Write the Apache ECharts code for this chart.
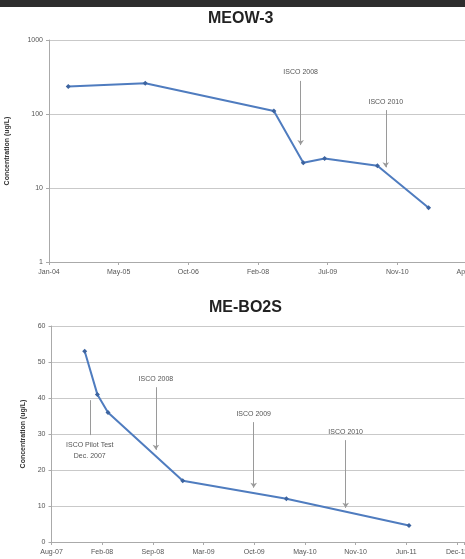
<!DOCTYPE html>
<html>
<head>
<meta charset="utf-8">
<script src="https://cdn.jsdelivr.net/npm/echarts@6/dist/echarts.min.js"></script>
<style>
  html, body { margin: 0; padding: 0; background: #fff; }
  #main { width: 465px; height: 559px; }
</style>
</head>
<body>
<div id="main"></div>
<script>
// MEOW-3 (log scale)
var meowStart = '2004-01-15';
var meowTickLabels = ['Jan-04', 'May-05', 'Oct-06', 'Feb-08', 'Jul-09', 'Nov-10', 'Apr-12'];
var meowDates = ['2004-06-01', '2005-12-06', '2008-06-16', '2009-01-13', '2009-06-15', '2010-06-29', '2011-07-01'];
var meowValues = [235, 260, 110, 22, 25, 20, 5.4];
var meowNotes = ['ISCO 2008', 'ISCO 2010'];
var meowNoteDates = ['2008-12-25', '2010-08-28'];
var meowNoteFrom = [280, 113];
var meowNoteTo = [38, 19];

// ME-BO2S (linear)
var boStart = '2007-08-06';
var boTickLabels = ['Aug-07', 'Feb-08', 'Sep-08', 'Mar-09', 'Oct-09', 'May-10', 'Nov-10', 'Jun-11', 'Dec-11'];
var boDates = ['2007-12-15', '2008-02-03', '2008-03-16', '2009-01-05', '2010-02-18', '2011-06-17'];
var boValues = [53, 41, 36, 17, 12, 4.6];
var boNotes = ['ISCO 2008', 'ISCO 2009', 'ISCO 2010'];
var boNoteDates = ['2008-09-21', '2009-10-12', '2010-10-10'];
var boNoteFrom = [43, 33.3, 28.3];
var boNoteTo = [25.6, 15.1, 9.5];
var pilotNote = 'ISCO Pilot Test\nDec. 2007';
var pilotDate = '2008-01-04';
var pilotRange = [39.4, 29.7];

function days(d, start) {
  return Math.round((Date.parse(d) - Date.parse(start)) / 86400000);
}

var chart = echarts.init(document.getElementById('main'));

var lineColor = '#4f7cbf';
var gridColor = '#c9c9c9';
var textColor = '#555';
var font = 'Liberation Sans, Arial, sans-serif';

function tickFormatter(labels, step) {
  return function (v) {
    if (v % step !== 0) return '';
    return labels[v / step] || '';
  };
}

function notesLines(names, dates, from, to, start) {
  return names.map(function (n, i) {
    var x = days(dates[i], start);
    return [
      { coord: [x, from[i]], symbol: 'none', label: { formatter: n } },
      { coord: [x, to[i]], symbol: 'arrow' }
    ];
  });
}

var boLines = notesLines(boNotes, boNoteDates, boNoteFrom, boNoteTo, boStart);
var px = days(pilotDate, boStart);
boLines.push([
  { coord: [px, pilotRange[0]], symbol: 'none' },
  { coord: [px, pilotRange[1]], symbol: 'none', label: { formatter: pilotNote, position: 'end', distance: 4 } }
]);

var markLineBase = {
  silent: true,
  symbolSize: 5,
  lineStyle: { color: '#9a9a9a', width: 1, type: 'solid' },
  label: { position: 'start', fontSize: 7, color: textColor, fontFamily: font, distance: 3, lineHeight: 11 },
  emphasis: { disabled: true }
};

var option = {
  animation: false,
  backgroundColor: '#fff',
  graphic: [{
    type: 'rect', left: 0, top: 0, shape: { width: 465, height: 7 }, style: { fill: '#2d2d2d' }
  }],
  title: [{
    text: 'MEOW-3', left: 208, top: 11, padding: 0,
    textStyle: { fontSize: 16, fontWeight: 'bold', color: '#222', fontFamily: font }
  }, {
    text: 'ME-BO2S', left: 209, top: 300, padding: 0,
    textStyle: { fontSize: 16, fontWeight: 'bold', color: '#222', fontFamily: font }
  }],
  grid: [
    { left: 49, top: 40, width: 418, height: 222, containLabel: false, outerBoundsMode: 'none' },
    { left: 51.5, top: 326, width: 413, height: 216, containLabel: false, outerBoundsMode: 'none' }
  ],
  xAxis: [{
    gridIndex: 0, type: 'value', min: 0, max: 3000, interval: 500,
    axisLine: { lineStyle: { color: '#aaa' } },
    axisTick: { show: true, length: 3, lineStyle: { color: '#aaa' } },
    axisLabel: { formatter: tickFormatter(meowTickLabels, 500), fontSize: 7, color: textColor, fontFamily: font, margin: 7 },
    splitLine: { show: false }
  }, {
    gridIndex: 1, type: 'value', min: 0, max: 1630, interval: 200,
    axisLine: { lineStyle: { color: '#aaa' } },
    axisTick: { show: true, length: 3, lineStyle: { color: '#aaa' } },
    axisLabel: { formatter: tickFormatter(boTickLabels, 200), fontSize: 7, color: textColor, fontFamily: font, margin: 7 },
    splitLine: { show: false }
  }],
  yAxis: [{
    gridIndex: 0, type: 'log', min: 1, max: 1000, logBase: 10,
    name: 'Concentration (ug/L)', nameLocation: 'middle', nameGap: 38, nameRotate: 90,
    nameTextStyle: { fontSize: 7, fontWeight: 'bold', color: '#333', fontFamily: font },
    axisLine: { show: true, lineStyle: { color: '#aaa' } },
    axisTick: { show: true, length: 3, lineStyle: { color: '#aaa' } },
    axisLabel: { formatter: function (v) { return String(Math.round(v)); }, fontSize: 7, color: textColor, fontFamily: font, margin: 6 },
    splitLine: { lineStyle: { color: gridColor } }
  }, {
    gridIndex: 1, type: 'value', min: 0, max: 60, interval: 10,
    name: 'Concentration (ug/L)', nameLocation: 'middle', nameGap: 22, nameRotate: 90,
    nameTextStyle: { fontSize: 7, fontWeight: 'bold', color: '#333', fontFamily: font },
    axisLine: { show: true, lineStyle: { color: '#aaa' } },
    axisTick: { show: true, length: 3, lineStyle: { color: '#aaa' } },
    axisLabel: { fontSize: 7, color: textColor, fontFamily: font, margin: 6 },
    splitLine: { lineStyle: { color: gridColor } }
  }],
  series: [{
    name: 'MEOW-3', type: 'line', xAxisIndex: 0, yAxisIndex: 0,
    data: meowDates.map(function (d, i) { return [days(d, meowStart), meowValues[i]]; }),
    symbol: 'diamond', symbolSize: 5,
    lineStyle: { color: lineColor, width: 2 },
    itemStyle: { color: '#3d64a0' },
    markLine: Object.assign({}, markLineBase, {
      data: notesLines(meowNotes, meowNoteDates, meowNoteFrom, meowNoteTo, meowStart)
    })
  }, {
    name: 'ME-BO2S', type: 'line', xAxisIndex: 1, yAxisIndex: 1,
    data: boDates.map(function (d, i) { return [days(d, boStart), boValues[i]]; }),
    symbol: 'diamond', symbolSize: 5,
    lineStyle: { color: lineColor, width: 2 },
    itemStyle: { color: '#3d64a0' },
    markLine: Object.assign({}, markLineBase, { data: boLines })
  }]
};

chart.setOption(option);
</script>
</body>
</html>
